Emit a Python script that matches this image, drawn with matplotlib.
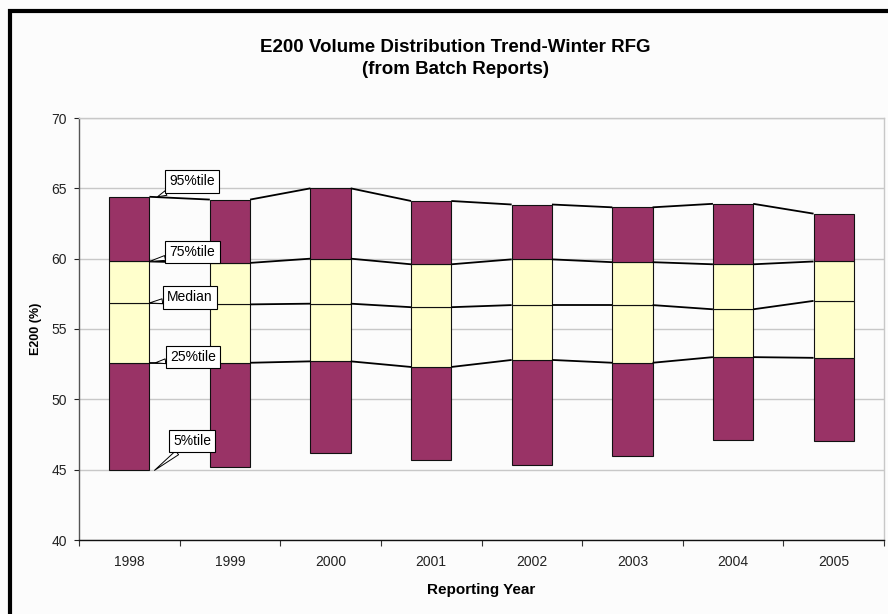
import matplotlib
matplotlib.use("Agg")
import matplotlib.pyplot as plt
from matplotlib.patches import Rectangle
import numpy as np

plt.rcParams['font.family'] = ['Liberation Sans', 'DejaVu Sans']

years = ["1998", "1999", "2000", "2001", "2002", "2003", "2004", "2005"]
p5 = [44.95, 45.2, 46.2, 45.7, 45.3, 45.95, 47.1, 47.05]
p25 = [52.6, 52.6, 52.7, 52.3, 52.8, 52.6, 53.0, 52.95]
median = [56.85, 56.75, 56.8, 56.55, 56.7, 56.7, 56.4, 57.0]
p75 = [59.8, 59.7, 60.0, 59.6, 59.95, 59.75, 59.6, 59.8]
p95 = [64.4, 64.2, 65.0, 64.1, 63.85, 63.65, 63.9, 63.2]

W, H = 888, 614
fig = plt.figure(figsize=(W / 100, H / 100), dpi=100)
fig.patch.set_facecolor('#fcfcfc')

L, R, T, B = 79, 884, 118, 540
ax = fig.add_axes([L / W, 1 - B / H, (R - L) / W, (B - T) / H])
ax.set_facecolor('#fcfcfc')

x = np.arange(len(years))
bw = 0.4
maroon = '#993366'
yellow = '#ffffcc'
p5a, p25a, meda, p75a, p95a = map(np.array, (p5, p25, median, p75, p95))
ekw = dict(edgecolor='#111111', linewidth=0.8, zorder=3)
ax.bar(x, p25a - p5a, bw, bottom=p5a, color=maroon, **ekw)
ax.bar(x, meda - p25a, bw, bottom=p25a, color=yellow, **ekw)
ax.bar(x, p75a - meda, bw, bottom=meda, color=yellow, **ekw)
ax.bar(x, p95a - p75a, bw, bottom=p75a, color=maroon, **ekw)

# series lines
for series in (p25a, meda, p75a, p95a):
    for i in range(len(x) - 1):
        ax.plot([x[i] + bw / 2, x[i + 1] - bw / 2], [series[i], series[i + 1]],
                color='black', lw=1.3, zorder=4, solid_capstyle='butt')

ax.set_xlim(-0.5, len(years) - 0.5)
ax.set_ylim(40, 70)
ax.set_yticks(np.arange(40, 71, 5))
ax.yaxis.grid(True, color='#c8c8c8', lw=1.0, zorder=0)
ax.set_axisbelow(True)

ax.set_xticks(x)
ax.set_xticklabels(years)
ax.set_xticks(np.arange(-0.5, len(years), 1), minor=True)
ax.tick_params(axis='x', which='major', length=0, pad=11, labelsize=10, colors='#222222')
ax.tick_params(axis='x', which='minor', length=4, width=0.8, color='#333333', direction='out')
ax.tick_params(axis='y', length=3.6, width=0.8, pad=5, labelsize=10, colors='#222222')

for s in ('top', 'right'):
    ax.spines[s].set_color('#c8c8c8')
    ax.spines[s].set_linewidth(1.0)
ax.spines['left'].set_color('#555555')
ax.spines['bottom'].set_color('#111111')
ax.spines['left'].set_linewidth(1.0)
ax.spines['bottom'].set_linewidth(1.0)

ax.set_ylabel('E200 (%)', fontsize=9, fontweight='bold', labelpad=7)
ax.set_xlabel('Reporting Year', fontsize=11, fontweight='bold', labelpad=10)

fig.text(455 / W, 1 - 47 / H, 'E200 Volume Distribution Trend-Winter RFG',
         ha='center', va='center', fontsize=13.5, fontweight='bold')
fig.text(455 / W, 1 - 70 / H, '(from Batch Reports)',
         ha='center', va='center', fontsize=13.5, fontweight='bold')

# callout labels attached to the first year
labels = [("95%tile", p95a[0], 0.28, (25, 11)),
          ("75%tile", p75a[0], 0.2, (31, 7)),
          ("Median", meda[0], 0.2, (29, 4)),
          ("25%tile", p25a[0], 0.26, (27, 4)),
          ("5%tile", p5a[0], 0.25, (27, 21))]
for txt, yv, dx, off in labels:
    ax.annotate(txt, xy=(x[0] + dx, yv), xytext=off, textcoords='offset points',
                ha='center', va='center', fontsize=10, zorder=6,
                bbox=dict(boxstyle='square,pad=0.3', fc='white', ec='black', lw=0.8),
                arrowprops=dict(arrowstyle='wedge,tail_width=0.35', fc='white', ec='black',
                                lw=0.7, shrinkA=0, shrinkB=0))

# outer black frame
fig.patches.append(Rectangle((10 / W, -0.2), 2, 1.2 - 11 / H, transform=fig.transFigure,
                             fill=False, ec='black', lw=3, figure=fig))

fig.savefig('out.png', dpi=100, facecolor=fig.get_facecolor())
